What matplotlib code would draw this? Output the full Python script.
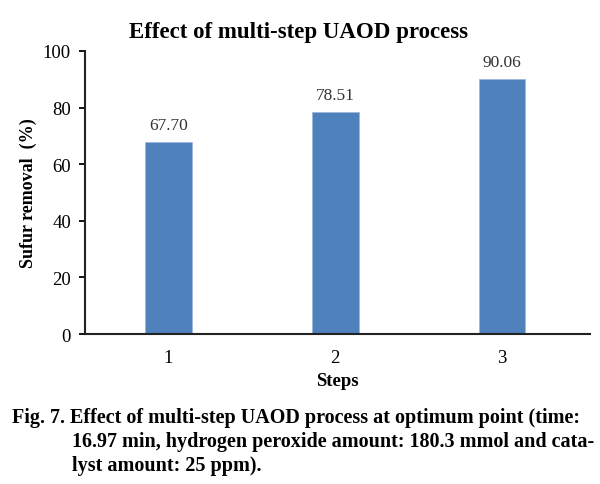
import matplotlib
matplotlib.use("Agg")
import matplotlib.pyplot as plt

# Data
steps = ["1", "2", "3"]
removal = [67.70, 78.51, 90.06]
value_labels = ["67.70", "78.51", "90.06"]

plt.rcParams['font.family'] = ['Liberation Serif', 'DejaVu Serif']

fig = plt.figure(figsize=(6, 4.85), dpi=100)
ax = fig.add_axes([0.142, 0.309, 0.842, 0.584])

x = range(len(steps))
bars = ax.bar(x, removal, width=0.28, color='#4F81BD', edgecolor='#9DB8DE', linewidth=0.6)
for b, lab in zip(bars, value_labels):
    ax.text(b.get_x() + b.get_width() / 2, b.get_height() + 3.2, lab,
            ha='center', va='bottom', fontsize=12.5, color='#333333')

ax.set_xlim(-0.5, 2.53)
ax.set_ylim(0, 100)
ax.set_yticks([0, 20, 40, 60, 80, 100])
ax.set_xticks(list(x))
ax.set_xticklabels(steps)
ax.tick_params(axis='x', length=0, pad=11, labelsize=13.5)
ax.tick_params(axis='y', length=4.3, width=1.3, labelsize=13.5, pad=6)
for s in ['top', 'right']:
    ax.spines[s].set_visible(False)
for s in ['left', 'bottom']:
    ax.spines[s].set_linewidth(1.5)
    ax.spines[s].set_color('#222222')

ax.set_xlabel('Steps', fontsize=13.5, fontweight='bold', labelpad=4)
ax.set_ylabel('Sufur removal  (%)', fontsize=13, fontweight='bold', labelpad=4)
fig.text(0.497, 0.934, 'Effect of multi-step UAOD process', ha='center', va='center',
         fontsize=16.5, fontweight='bold')

fig.text(0.02, 0.138, 'Fig. 7. Effect of multi-step UAOD process at optimum point (time:',
         fontsize=14.5, fontweight='bold', va='center')
fig.text(0.12, 0.089, '16.97 min, hydrogen peroxide amount: 180.3 mmol and cata-',
         fontsize=14.5, fontweight='bold', va='center')
fig.text(0.12, 0.040, 'lyst amount: 25 ppm).',
         fontsize=14.5, fontweight='bold', va='center')

fig.savefig('out.png', dpi=100)
